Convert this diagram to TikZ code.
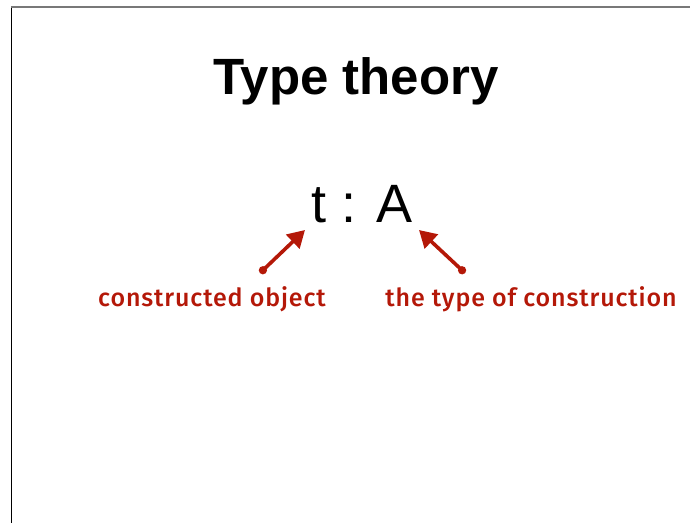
\documentclass[tikz,border=0pt]{standalone}
\usepackage{fontspec}
\setmainfont{Liberation Sans}
\newfontfamily\labelfont[LetterSpace=3.5]{Fira Sans Medium}
\usetikzlibrary{arrows.meta}
\definecolor{annot}{RGB}{180,24,8}
\definecolor{topline}{RGB}{120,120,120}
\tikzset{
  title/.style={anchor=base, inner sep=0pt, font=\fontsize{51}{51}\selectfont\bfseries},
  judg/.style={anchor=base, inner sep=0pt, font=\fontsize{54}{54}\selectfont},
  annotlabel/.style={anchor=base, inner sep=0pt, text=annot, font=\labelfont\fontsize{25}{25}\selectfont},
  pointer/.style={draw=annot, line width=3.6pt, {Circle[length=8pt]}-{Triangle[length=17pt,width=19pt]}}
}
\begin{document}
\begin{tikzpicture}[x=1pt,y=-1pt]
\useasboundingbox (0,0) rectangle (690,523);
\draw[line width=1pt] (11,7) -- (11,523);
\draw[topline, line width=1.6pt] (11,7) -- (690,7);
\node[title] (t) at (356,94) {Type theory};
\node[judg] (j) at (362,222) {t : A};
\node[annotlabel] (l1) at (212,306) {constructed object};
\node[annotlabel] (l2) at (531,306) {the type of construction};
\coordinate (a1s) at (260,273);
\coordinate (a1e) at (305,230);
\coordinate (a2s) at (465,273);
\coordinate (a2e) at (419,230);
\draw[pointer] (a1s) -- (a1e);
\draw[pointer] (a2s) -- (a2e);
\end{tikzpicture}
\end{document}
